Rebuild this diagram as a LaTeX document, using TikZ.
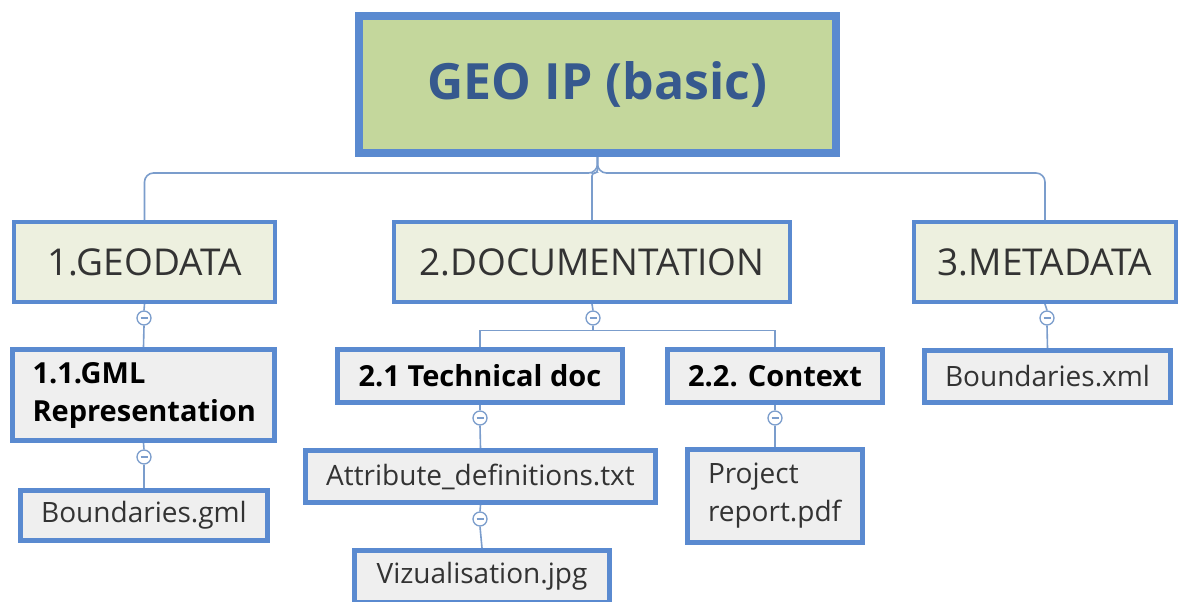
\documentclass[tikz,border=0pt]{standalone}
\usepackage{fontspec}
\setmainfont{Open Sans}
\usepackage{xcolor}
\usepackage{tikz}
\usetikzlibrary{positioning}

\definecolor{boxblue}{HTML}{5A8AD0}
\definecolor{linkblue}{HTML}{7B9DCC}
\definecolor{rootgreen}{HTML}{C4D79C}
\definecolor{topicgreen}{HTML}{EDF0DF}
\definecolor{leafgray}{HTML}{EFEFEF}
\definecolor{roottext}{HTML}{36598E}
\definecolor{topictext}{HTML}{333333}

\begin{document}
\begin{tikzpicture}[
    x=1pt, y=-1pt,
    root_style/.style={draw=boxblue, line width=8pt, fill=rootgreen, text=roottext,
      font=\fontsize{50}{56}\selectfont\bfseries, inner sep=0pt},
    topic_style/.style={draw=boxblue, line width=4pt, fill=topicgreen, text=topictext,
      font=\fontsize{37}{42}\selectfont, inner sep=0pt, minimum height=80},
    sub_style/.style={draw=boxblue, line width=5pt, fill=leafgray, text=black,
      font=\fontsize{29}{38}\selectfont\bfseries, inner sep=0pt},
    leaf_style/.style={draw=boxblue, line width=5pt, fill=leafgray, text=topictext,
      font=\fontsize{28}{38}\selectfont, inner sep=0pt},
    link/.style={draw=linkblue, line width=1.6pt},
    knob/.style={circle, draw=linkblue, line width=1.3pt, fill=white, minimum size=14pt,
      inner sep=0pt, path picture={\draw[linkblue, line width=1.2pt]
        ([xshift=-3.5pt]path picture bounding box.center) --
        ([xshift=3.5pt]path picture bounding box.center);}}
  ]
  \useasboundingbox (0,0) rectangle (1179,602);

  % 1. Rotnoden
  \node[root_style, minimum width=477, minimum height=137] (root) at (597.5,84.5) {GEO IP (basic)};

  % 2. Första nivån
  \node[topic_style, minimum width=261] (geo) at (144.5,262) {1.GEODATA};
  \node[topic_style, minimum width=396] (doc) at (592,262) {2.DOCUMENTATION};
  \node[topic_style, minimum width=262] (meta) at (1045,262) {3.METADATA};

  \draw[link, rounded corners=9] (root.south) -- ++(0,16) -| (geo.north);
  \draw[link, rounded corners=9] (root.south) -- ++(0,16) -| (meta.north);
  \draw[link, rounded corners=3] (root.south) -- ++(0,16) -| (doc.north);

  % 3. Knappar under första nivån
  \node[knob] (geo_knob) at (144,318) {};
  \node[knob] (doc_knob) at (593,318) {};
  \node[knob] (meta_knob) at (1047,318) {};

  % 4. Andra nivån
  \node[sub_style, minimum width=262, minimum height=91, text width=222, align=left] (gml) at (143.5,395)
    {1.1.GML\\Representation};
  \node[sub_style, minimum width=285, minimum height=53] (tech) at (480,376) {2.1 Technical doc};
  \node[sub_style, minimum width=215, minimum height=53] (ctx) at (775,376) {2.2. Context};
  \node[leaf_style, minimum width=246, minimum height=52] (bxml) at (1047.5,376.5) {Boundaries.xml};

  \draw[link] (geo.south) -- (geo_knob.north);
  \draw[link] (geo_knob.south) -- (gml.north);
  \draw[link] (doc.south) -- (doc_knob.north);
  \draw[link] (doc_knob.south) -- ++(0,5) -| (tech.north);
  \draw[link] (doc_knob.south) -- ++(0,5) -| (ctx.north);
  \draw[link] (meta.south) -- (meta_knob.north);
  \draw[link] (meta_knob.south) -- (bxml.north);

  % 5. Filer
  \node[knob] (gml_knob) at (144,457) {};
  \node[knob] (tech_knob) at (480,418) {};
  \node[knob] (ctx_knob) at (775,418) {};

  \node[leaf_style, minimum width=247, minimum height=50] (bgml) at (144,515.5) {Boundaries.gml};
  \node[leaf_style, minimum width=350, minimum height=52] (attr) at (480.5,476.5) {Attribute\_definitions.txt};
  \node[leaf_style, minimum width=175, minimum height=93, text width=134, align=left] (report) at (775,496)
    {Project\\report.pdf};

  \draw[link] (gml.south) -- (gml_knob.north);
  \draw[link] (gml_knob.south) -- (bgml.north);
  \draw[link] (tech.south) -- (tech_knob.north);
  \draw[link] (tech_knob.south) -- (attr.north);
  \draw[link] (ctx.south) -- (ctx_knob.north);
  \draw[link] (ctx_knob.south) -- (report.north);

  \node[knob] (attr_knob) at (480,519) {};
  \node[leaf_style, minimum width=255, minimum height=52] (viz) at (482,576.5) {Vizualisation.jpg};

  \draw[link] (attr.south) -- (attr_knob.north);
  \draw[link] (attr_knob.south) -- (viz.north);

\end{tikzpicture}
\end{document}
